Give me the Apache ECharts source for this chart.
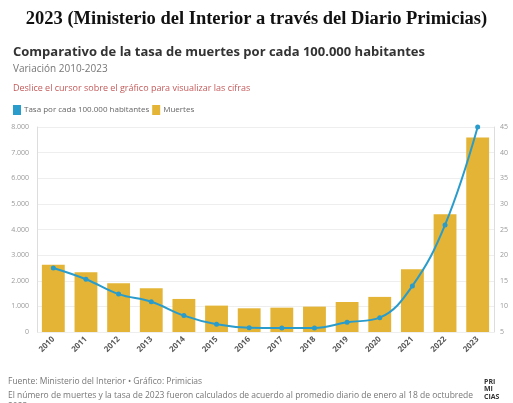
<!DOCTYPE html>
<html><head><meta charset="utf-8">
<script src="https://cdn.jsdelivr.net/npm/echarts@6/dist/echarts.min.js"></script>
<style>html,body{margin:0;padding:0;background:#fff}#c{width:513px;height:403px}</style>
</head><body><div id="c"></div>
<script>
const years = ['2010','2011','2012','2013','2014','2015','2016','2017','2018','2019','2020','2021','2022','2023'];
const deaths = [2620,2330,1900,1705,1290,1030,925,950,990,1170,1370,2450,4600,7590];
const rate = [17.5,15.3,12.4,10.9,8.2,6.5,5.85,5.8,5.8,6.9,7.8,14.0,25.9,45];
const leftTicks = [0,1000,2000,3000,4000,5000,6000,7000,8000];
const rightTicks = [5,10,15,20,25,30,35,40,45];

const chart = echarts.init(document.getElementById('c'));
chart.setOption({
  animation:false,
  backgroundColor:'#fff',
  textStyle:{fontFamily:'Open Sans'},
  title:[
    {text:'2023 (Ministerio del Interior a través del Diario Primicias)',left:'center',top:5,
     textStyle:{fontFamily:'Liberation Serif',fontWeight:'bold',fontSize:18.5,color:'#111'}},
    {text:'Comparativo de la tasa de muertes por cada 100.000 habitantes',left:8,top:41,
     textStyle:{fontFamily:'Open Sans',fontWeight:'bold',fontSize:13,color:'#333'}},
    {text:'Variación 2010-2023',left:8,top:59,textStyle:{fontSize:10,fontWeight:'normal',color:'#777'}},
    {text:'Deslice el cursor sobre el gráfico para visualizar las cifras',left:8,top:79,
     textStyle:{fontSize:9,fontWeight:'normal',color:'#c45a5a'}}
  ],
  legend:{left:8,top:100,itemWidth:8,itemHeight:10,itemGap:3,
    textStyle:{fontSize:8,color:'#666',padding:[0,0,0,-2]},
    data:[{name:'Tasa por cada 100.000 habitantes',icon:'rect'},{name:'Muertes',icon:'rect'}]},
  grid:{left:37,right:19,top:127,bottom:71},
  xAxis:{type:'category',data:years,
    axisLine:{show:false},axisTick:{show:false},
    axisLabel:{rotate:45,fontSize:8,fontWeight:'bold',color:'#555',margin:6}},
  yAxis:[
    {type:'value',min:0,max:8000,interval:1000,
     axisLine:{show:true,lineStyle:{color:'#ddd'}},
     axisLabel:{fontSize:7,color:'#999',margin:8,formatter:v=>v===0?'0':(v/1000)+'.000'},
     splitLine:{lineStyle:{color:'#eee'}}},
    {type:'value',min:5,max:45,interval:5,position:'right',
     axisLine:{show:true,lineStyle:{color:'#ddd'}},
     axisLabel:{fontSize:7,color:'#999',margin:6},
     splitLine:{show:false}}
  ],
  series:[
    {name:'Muertes',type:'bar',data:deaths,barWidth:'70%',itemStyle:{color:'#e3b435'},z:1},
    {name:'Tasa por cada 100.000 habitantes',type:'line',yAxisIndex:1,data:rate,smooth:0.4,
     symbol:'circle',symbolSize:5,lineStyle:{color:'#2a9ccc',width:2},itemStyle:{color:'#2a9ccc'},z:3}
  ],
  graphic:[
    {type:'text',left:8,top:377,style:{text:'Fuente: Ministerio del Interior • Gráfico: Primicias',fontSize:8.5,fill:'#777',fontFamily:'Open Sans'}},
    {type:'text',left:8,top:391,style:{text:'El número de muertes y la tasa de 2023 fueron calculados de acuerdo al promedio diario de enero al 18 de octubrede',fontSize:8.5,fill:'#777',fontFamily:'Open Sans'}},
    {type:'text',left:8,top:402,style:{text:'2023',fontSize:8.5,fill:'#777',fontFamily:'Open Sans'}},
    {type:'text',left:484,top:378,style:{text:'PRI\nMI\nCIAS',fontSize:7,fontWeight:'bold',fill:'#333',lineHeight:7.5,fontFamily:'Open Sans'}}
  ]
});
</script></body></html>
